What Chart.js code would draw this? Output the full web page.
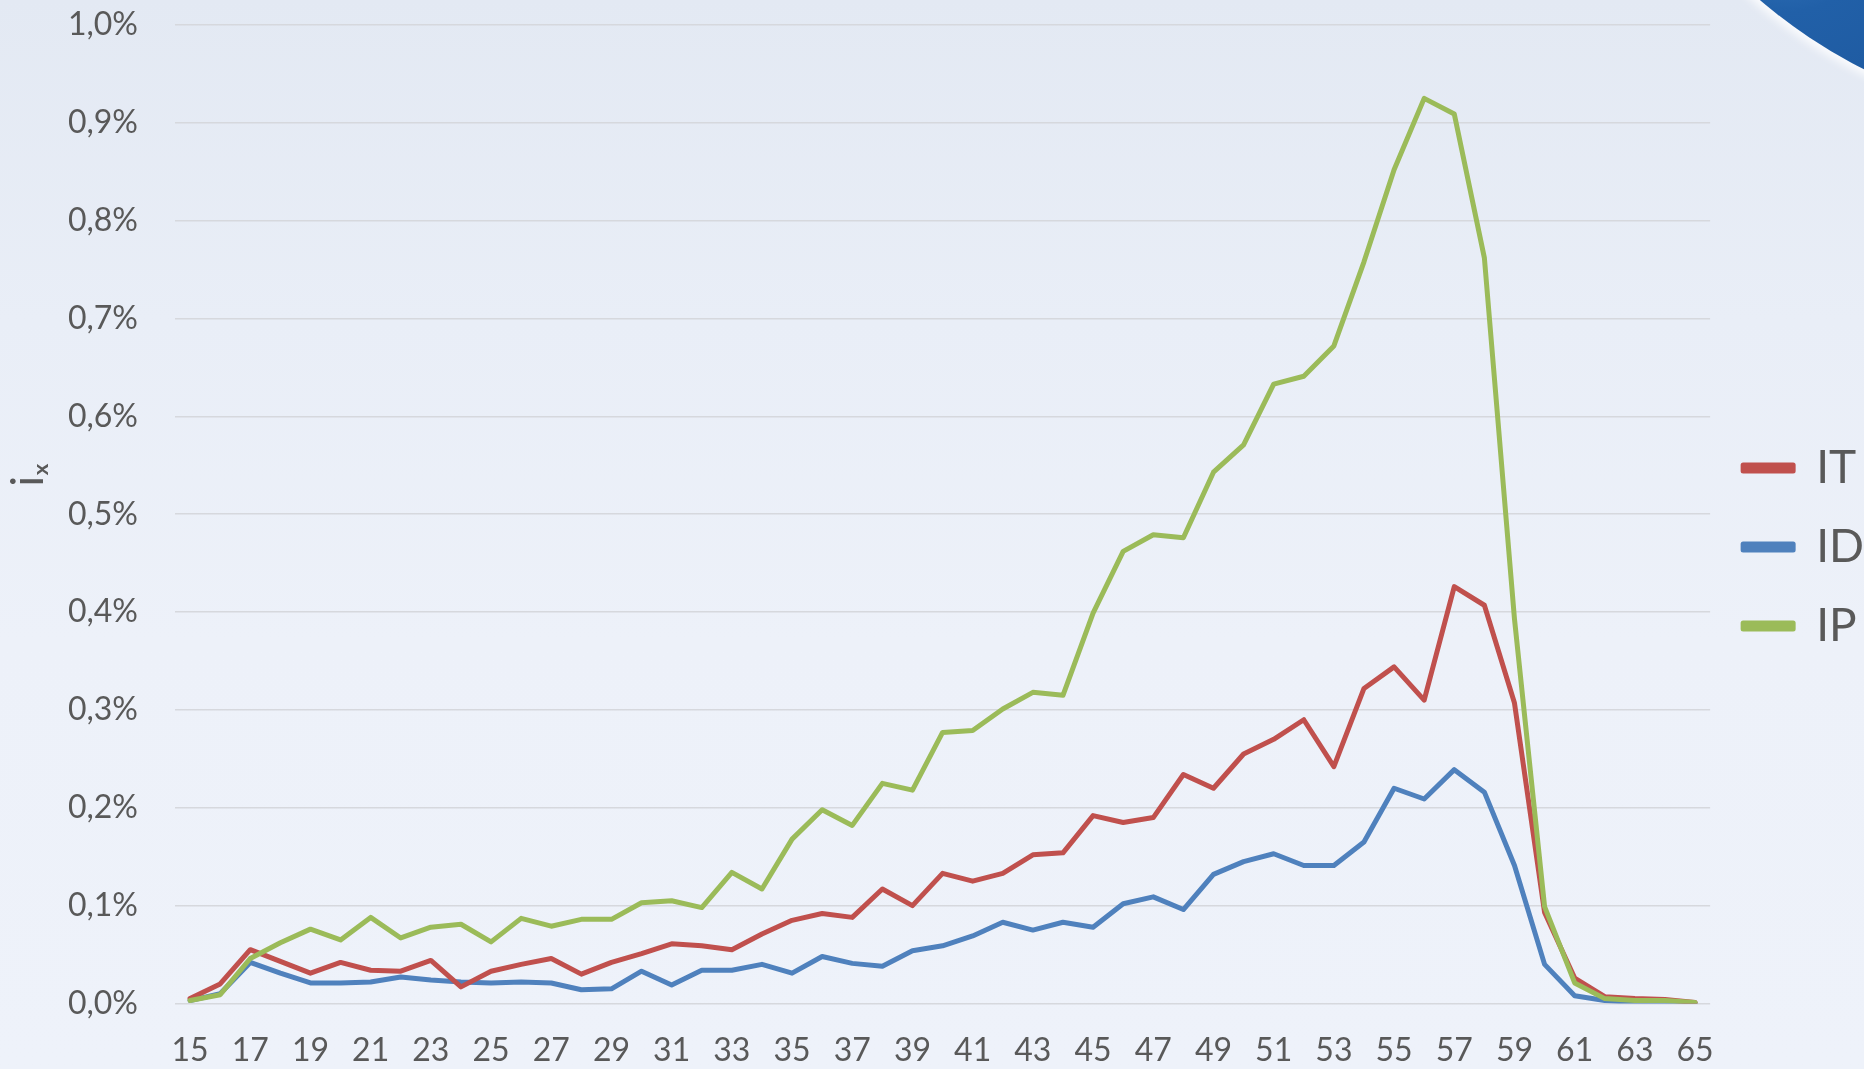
<!DOCTYPE html>
<html>
<head>
<meta charset="utf-8">
<script src="https://cdn.jsdelivr.net/npm/chart.js@4.4.1/dist/chart.umd.min.js"></script>
<style>
  html, body { margin: 0; padding: 0; }
  body {
    width: 1864px; height: 1069px; overflow: hidden; position: relative;
    background: linear-gradient(to bottom, #E3E9F3 0%, #E9EEF7 30%, #EDF1F9 60%, #EEF2FA 100%);
  }
  #swoosh {
    position: absolute; left: 1583px; top: -894px; width: 1017px; height: 1017px;
    border-radius: 50%;
    background: radial-gradient(circle at 20% 80%, #3B7CC2 0%, #2160A8 8%, #1B5296 30%, #174784 100%);
    box-shadow: 0 0 10px 5px rgba(255,255,255,0.85);
    z-index: 0;
  }
  #wrap { position: absolute; left: 0; top: 0; width: 1864px; height: 1069px; z-index: 1; }
</style>
</head>
<body>
<div id="swoosh"></div>
<div id="wrap"><canvas id="c"></canvas></div>
<script>
const ages = [15,16,17,18,19,20,21,22,23,24,25,26,27,28,29,30,31,32,33,34,35,36,37,38,39,40,
  41,42,43,44,45,46,47,48,49,50,51,52,53,54,55,56,57,58,59,60,61,62,63,64,65];

// values in percent
const IT = [0.005,0.020,0.055,0.043,0.031,0.042,0.034,0.033,0.044,0.017,0.033,0.040,0.046,0.030,0.042,
  0.051,0.061,0.059,0.055,0.071,0.085,0.092,0.088,0.117,0.100,0.133,0.125,0.133,0.152,0.154,
  0.192,0.185,0.190,0.234,0.220,0.255,0.270,0.290,0.242,0.322,0.344,0.310,0.426,0.407,0.307,
  0.093,0.026,0.007,0.005,0.004,0.001];

const ID = [0.003,0.010,0.042,0.031,0.021,0.021,0.022,0.027,0.024,0.022,0.021,0.022,0.021,0.014,0.015,
  0.033,0.019,0.034,0.034,0.040,0.031,0.048,0.041,0.038,0.054,0.059,0.069,0.083,0.075,0.083,
  0.078,0.102,0.109,0.096,0.132,0.145,0.153,0.141,0.141,0.165,0.220,0.209,0.239,0.216,0.141,
  0.040,0.008,0.003,0.001,0.001,0.0005];

const IP = [0.003,0.009,0.046,0.062,0.076,0.065,0.088,0.067,0.078,0.081,0.063,0.087,0.079,0.086,0.086,
  0.103,0.105,0.098,0.134,0.117,0.168,0.198,0.182,0.225,0.218,0.277,0.279,0.301,0.318,0.315,
  0.399,0.462,0.479,0.476,0.543,0.571,0.633,0.641,0.672,0.758,0.852,0.925,0.909,0.762,0.393,
  0.099,0.021,0.005,0.003,0.003,0.001];

const seriesNames = ['IT', 'ID', 'IP'];
const seriesColors = ['#C0504D', '#4F81BD', '#9BBB59'];
const yTicks = [0,0.1,0.2,0.3,0.4,0.5,0.6,0.7,0.8,0.9,1.0];
const yTitle = '\u00A0\u00A0\u00A0\u00A0\u00A0\u00A0\u00A0iₓ';

const FONT = "Lato, 'Open Sans', 'Noto Sans', 'DejaVu Sans', sans-serif";
const TXT = '#595959';

const seriesData = [IT, ID, IP];
const drawOrder = [1, 2, 0]; // IP on top

const datasets = seriesNames.map((n, i) => ({
  label: n,
  data: seriesData[i],
  borderColor: seriesColors[i],
  backgroundColor: seriesColors[i],
  borderWidth: 5,
  pointRadius: 0,
  pointHoverRadius: 0,
  tension: 0,
  borderJoinStyle: 'round',
  borderCapStyle: 'round',
  fill: false,
  order: drawOrder[i]
}));

new Chart(document.getElementById('c'), {
  type: 'line',
  data: { labels: ages, datasets },
  options: {
    responsive: true,
    maintainAspectRatio: false,
    animation: false,
    layout: { padding: { top: 25, right: -10, bottom: 0, left: 0 } },
    plugins: {
      tooltip: { enabled: false },
      legend: {
        position: 'right',
        align: 'center',
        labels: {
          font: { family: FONT, size: 46 },
          color: TXT,
          boxWidth: 50,
          boxHeight: 6,
          padding: 33,
          sort: (a, b) => a.datasetIndex - b.datasetIndex
        }
      }
    },
    scales: {
      x: {
        type: 'category',
        offset: true,
        grid: { display: false, drawTicks: false },
        border: { display: false },
        ticks: {
          autoSkip: false,
          maxRotation: 0,
          padding: 28,
          color: TXT,
          font: { family: FONT, size: 32 },
          callback: function(v, i) { return i % 2 === 0 ? this.getLabelForValue(v) : ''; }
        },
        afterFit: (s) => { s.height = 65.5; }
      },
      y: {
        min: 0,
        max: 1.0,
        afterBuildTicks: (s) => { s.ticks = yTicks.map(v => ({ value: v })); },
        grid: { color: '#D6D8DD', lineWidth: 1.6, drawTicks: true, tickLength: 34, tickColor: 'rgba(0,0,0,0)' },
        border: { display: false },
        ticks: {
          padding: 3,
          color: TXT,
          font: { family: FONT, size: 32 },
          callback: (v) => v.toFixed(1).replace('.', ',') + '%'
        },
        title: {
          display: true,
          text: yTitle,
          color: TXT,
          font: { family: FONT, size: 44 },
          padding: { top: 2, bottom: 0 }
        },
        afterFit: (s) => { s.width = 175; }
      }
    }
  }
});
</script>
</body>
</html>
